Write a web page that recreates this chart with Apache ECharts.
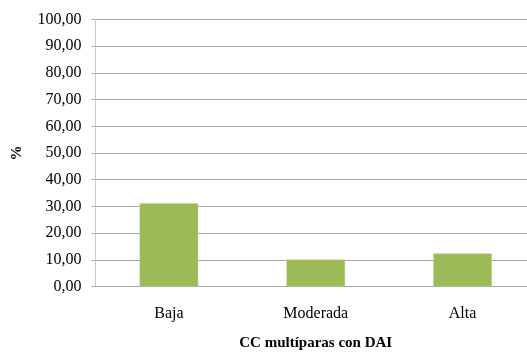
<!DOCTYPE html>
<html>
<head>
<meta charset="utf-8">
<script src="https://cdn.jsdelivr.net/npm/echarts@6/dist/echarts.min.js"></script>
<style>
  html, body { margin: 0; padding: 0; background: #ffffff; }
  #chart { width: 527px; height: 356px; }
</style>
</head>
<body>
<div id="chart"></div>
<script>
// Niveles de DAI y porcentaje de CC multíparas en cada uno
const categories = ['Baja', 'Moderada', 'Alta'];
const percentages = [31.2, 10.1, 12.4];
const yTicks = [0, 10, 20, 30, 40, 50, 60, 70, 80, 90, 100];

const serif = '"Liberation Serif", "Times New Roman", serif';
const fmt = v => v.toFixed(2).replace('.', ',');

const chart = echarts.init(document.getElementById('chart'), null, { renderer: 'canvas' });
chart.setOption({
  animation: false,
  backgroundColor: '#ffffff',
  grid: {
    left: 95.5, right: -9, top: 19.5, bottom: 69.5,
    containLabel: false,
    outerBoundsMode: 'none'
  },
  xAxis: {
    type: 'category',
    data: categories,
    name: 'CC multíparas con DAI',
    nameLocation: 'middle',
    nameGap: 49,
    nameTextStyle: { fontFamily: serif, fontSize: 15, fontWeight: 'bold', color: '#000' },
    axisLine: { lineStyle: { color: '#a6a6a6', width: 1 } },
    axisTick: { show: false },
    axisLabel: { fontFamily: serif, fontSize: 16, color: '#000', margin: 19 }
  },
  yAxis: {
    type: 'value',
    min: yTicks[0],
    max: yTicks[yTicks.length - 1],
    interval: yTicks[1] - yTicks[0],
    name: '%',
    nameLocation: 'middle',
    nameGap: 71,
    nameRotate: 90,
    nameTextStyle: { fontFamily: serif, fontSize: 15, fontWeight: 'bold', color: '#000' },
    axisLine: { show: true, lineStyle: { color: '#c8c8c8', width: 1 } },
    axisTick: { show: true, length: 4, lineStyle: { color: '#a6a6a6' } },
    splitLine: { lineStyle: { color: '#a6a6a6', width: 1 } },
    axisLabel: { fontFamily: serif, fontSize: 16, color: '#000', margin: 14, formatter: fmt }
  },
  series: [{
    type: 'bar',
    data: percentages,
    barWidth: '40%',
    itemStyle: { color: '#9bbb59', borderColor: '#c3d69b', borderWidth: 0.5 }
  }]
});
</script>
</body>
</html>
